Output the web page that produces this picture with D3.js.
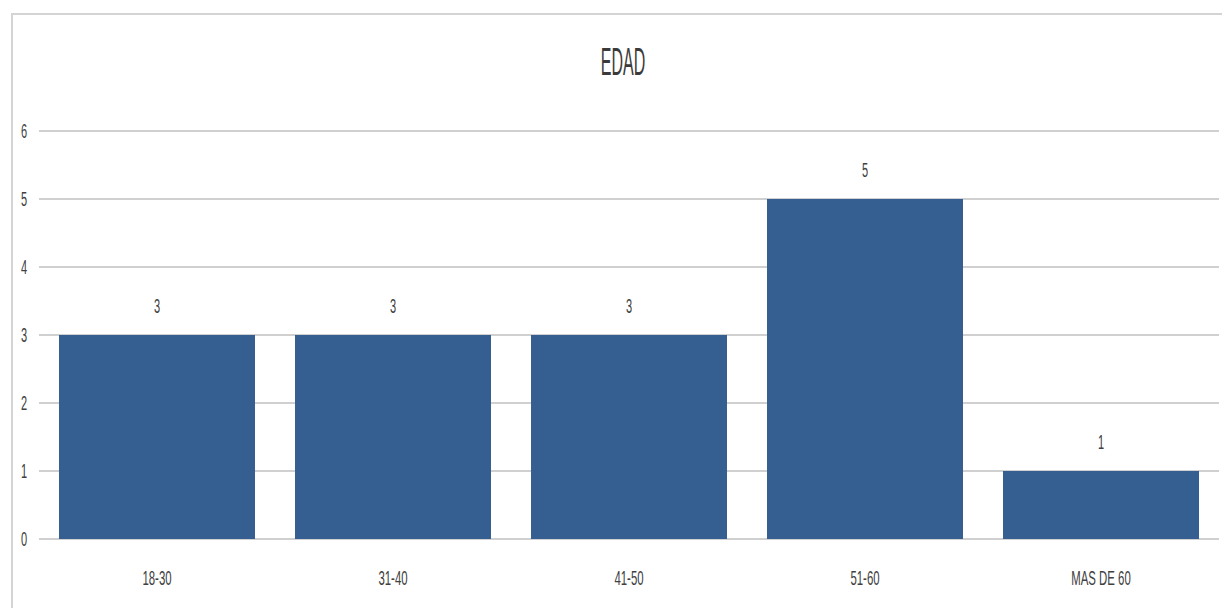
<!DOCTYPE html>
<html>
<head>
<meta charset="utf-8">
<script src="https://cdn.jsdelivr.net/npm/d3@7"></script>
<style>
  html, body { margin: 0; padding: 0; background: #fff; }
  svg { display: block; }
  text { font-family: "Liberation Sans", Arial, sans-serif; fill: #404040; }
</style>
</head>
<body>
<svg id="chart" width="1222" height="608"></svg>
<script>
const title = "EDAD";
const categories = ["18-30", "31-40", "41-50", "51-60", "MAS DE 60"];
const values = [3, 3, 3, 5, 1];
const yTicks = [0, 1, 2, 3, 4, 5, 6];

const svg = d3.select("#chart");
const W = 1222, H = 608;

// outer chart border
svg.append("rect")
  .attr("x", 12).attr("y", 14)
  .attr("width", W + 20).attr("height", H + 20)
  .attr("fill", "none").attr("stroke", "#d4d4d4").attr("stroke-width", 2);

const x = d3.scaleBand()
  .domain(categories)
  .range([39, 1219])
  .paddingInner(0.1695)
  .paddingOuter(0.0847);

const y = d3.scaleLinear().domain([0, 6]).range([539, 131]);

// helper: condensed text
function ctext(g, tx, ty, str, size, sx) {
  return g.append("text")
    .attr("transform", `translate(${tx},${ty}) scale(${sx},1)`)
    .attr("text-anchor", "middle")
    .style("font-size", size + "px")
    .text(str);
}

// gridlines
const grid = svg.append("g");
grid.selectAll("line").data(yTicks).join("line")
  .attr("x1", 39).attr("x2", 1219)
  .attr("y1", d => y(d)).attr("y2", d => y(d))
  .attr("stroke", "#d0d0d0").attr("stroke-width", 2);

// y tick labels
const yl = svg.append("g");
yTicks.forEach(t => ctext(yl, 24, y(t) + 7, String(t), 20, 0.55));

// bars
svg.append("g").selectAll("rect").data(values).join("rect")
  .attr("x", (d, i) => x(categories[i]))
  .attr("width", x.bandwidth())
  .attr("y", d => y(d))
  .attr("height", d => y(0) - y(d))
  .attr("fill", "#365f91");

// value labels
const vl = svg.append("g");
values.forEach((v, i) => ctext(vl, x(categories[i]) + x.bandwidth() / 2, y(v) - 22, String(v), 20, 0.55));

// x labels
const xl = svg.append("g");
categories.forEach(c => ctext(xl, x(c) + x.bandwidth() / 2, 585, c, 20, 0.57));

// title
ctext(svg, 623, 75, title, 38, 0.42).style("fill", "#3a3a3a");
</script>
</body>
</html>
